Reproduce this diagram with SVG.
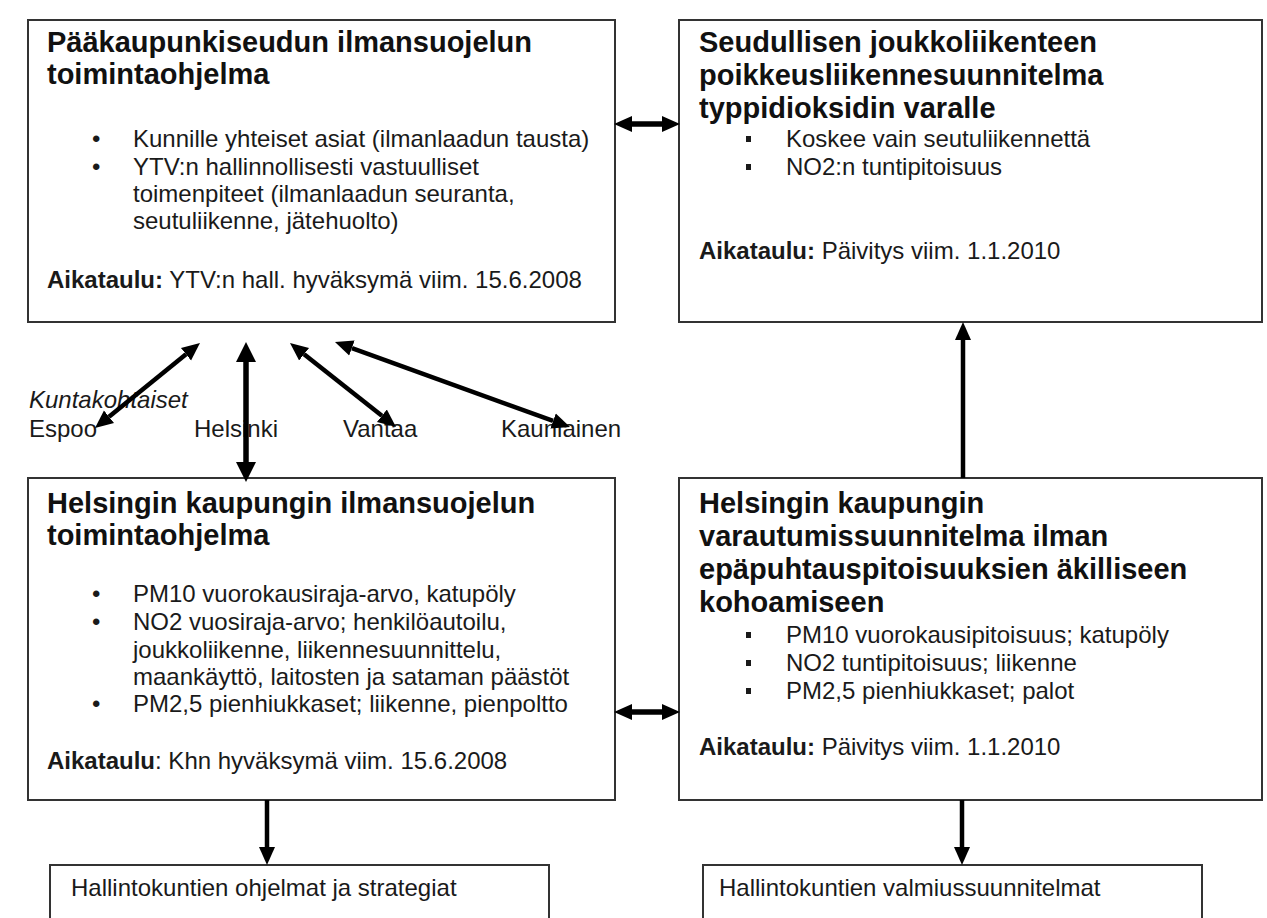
<svg xmlns="http://www.w3.org/2000/svg" width="1267" height="918" viewBox="0 0 1267 918">
<style>
.box{fill:#fff;stroke:#333;stroke-width:2}
.t{font-family:"Liberation Sans",Arial,sans-serif;font-size:29px;font-weight:bold;fill:#111}
.b{font-family:"Liberation Sans",Arial,sans-serif;font-size:24px;fill:#1a1a1a}
.bb{font-weight:bold}
.lbl{font-family:"Liberation Sans",Arial,sans-serif;font-size:24px;fill:#1a1a1a}
.it{font-style:italic}
.sq{fill:#1a1a1a}
.ar{stroke:#000;stroke-width:4.5;fill:none}
.arH{stroke:#000;stroke-width:5.5;fill:none}
.arL{stroke:#000;stroke-width:5.5;fill:none}
</style>
<defs>
<marker id="ah" markerUnits="userSpaceOnUse" markerWidth="20" markerHeight="20" viewBox="0 -10 20 20" refX="0" refY="0" orient="auto-start-reverse">
<path d="M0,-8 L18,0 L0,8 z" fill="#000"/>
</marker>
<marker id="ahL" markerUnits="userSpaceOnUse" markerWidth="22" markerHeight="24" viewBox="0 -12 22 24" refX="0" refY="0" orient="auto-start-reverse">
<path d="M0,-10 L20,0 L0,10 z" fill="#000"/>
</marker>
</defs>
<rect width="1267" height="918" fill="#fff"/>

<g id="node-paakaupunkiseutu">
<rect class="box" x="28" y="20" width="587" height="302"/>
<text class="t" x="47" y="52">Pääkaupunkiseudun ilmansuojelun</text>
<text class="t" x="47" y="84">toimintaohjelma</text>
<text class="b" x="92" y="147">•</text>
<text class="b" x="133" y="147">Kunnille yhteiset asiat (ilmanlaadun tausta)</text>
<text class="b" x="92" y="175">•</text>
<text class="b" x="133" y="175">YTV:n hallinnollisesti vastuulliset</text>
<text class="b" x="133" y="202">toimenpiteet (ilmanlaadun seuranta,</text>
<text class="b" x="133" y="229">seutuliikenne, jätehuolto)</text>
<text class="b" x="47" y="288"><tspan class="bb">Aikataulu:</tspan> YTV:n hall. hyväksymä viim. 15.6.2008</text>
</g>

<g id="node-seudullinen">
<rect class="box" x="679" y="20" width="583" height="302"/>
<text class="t" x="699" y="52">Seudullisen joukkoliikenteen</text>
<text class="t" x="699" y="85">poikkeusliikennesuunnitelma</text>
<text class="t" x="699" y="118">typpidioksidin varalle</text>
<rect class="sq" x="746" y="136" width="5" height="6"/>
<text class="b" x="786" y="147">Koskee vain seutuliikennettä</text>
<rect class="sq" x="746" y="164" width="5" height="6"/>
<text class="b" x="786" y="175">NO2:n tuntipitoisuus</text>
<text class="b" x="699" y="259"><tspan class="bb">Aikataulu:</tspan> Päivitys viim. 1.1.2010</text>
</g>

<g id="node-helsinki-toimintaohjelma">
<rect class="box" x="28" y="478" width="587" height="322"/>
<text class="t" x="47" y="513">Helsingin kaupungin ilmansuojelun</text>
<text class="t" x="47" y="545">toimintaohjelma</text>
<text class="b" x="92" y="602">•</text>
<text class="b" x="133" y="602">PM10 vuorokausiraja-arvo, katupöly</text>
<text class="b" x="92" y="630">•</text>
<text class="b" x="133" y="630">NO2 vuosiraja-arvo; henkilöautoilu,</text>
<text class="b" x="133" y="658">joukkoliikenne, liikennesuunnittelu,</text>
<text class="b" x="133" y="685">maankäyttö, laitosten ja sataman päästöt</text>
<text class="b" x="92" y="712">•</text>
<text class="b" x="133" y="712">PM2,5 pienhiukkaset; liikenne, pienpoltto</text>
<text class="b" x="47" y="769"><tspan class="bb">Aikataulu</tspan>: Khn hyväksymä viim. 15.6.2008</text>
</g>

<g id="node-varautumissuunnitelma">
<rect class="box" x="679" y="478" width="583" height="322"/>
<text class="t" x="699" y="513">Helsingin kaupungin</text>
<text class="t" x="699" y="546">varautumissuunnitelma ilman</text>
<text class="t" x="699" y="579">epäpuhtauspitoisuuksien äkilliseen</text>
<text class="t" x="699" y="612">kohoamiseen</text>
<rect class="sq" x="746" y="632" width="5" height="6"/>
<text class="b" x="786" y="643">PM10 vuorokausipitoisuus; katupöly</text>
<rect class="sq" x="746" y="660" width="5" height="6"/>
<text class="b" x="786" y="671">NO2 tuntipitoisuus; liikenne</text>
<rect class="sq" x="746" y="688" width="5" height="6"/>
<text class="b" x="786" y="699">PM2,5 pienhiukkaset; palot</text>
<text class="b" x="699" y="755"><tspan class="bb">Aikataulu:</tspan> Päivitys viim. 1.1.2010</text>
</g>

<g id="node-ohjelmat">
<rect class="box" x="50" y="865" width="499" height="80"/>
<text class="b" x="71" y="896">Hallintokuntien ohjelmat ja strategiat</text>
</g>

<g id="node-valmiussuunnitelmat">
<rect class="box" x="703" y="865" width="499" height="80"/>
<text class="b" x="719" y="896">Hallintokuntien valmiussuunnitelmat</text>
</g>

<g id="labels">
<text class="lbl it" x="29" y="408">Kuntakohtaiset</text>
<text class="lbl" x="29" y="437">Espoo</text>
<text class="lbl" x="194" y="437">Helsinki</text>
<text class="lbl" x="343" y="437">Vantaa</text>
<text class="lbl" x="501" y="437">Kauniainen</text>
</g>

<g id="connectors">
<line class="arH" x1="632" y1="124" x2="662" y2="124" marker-start="url(#ah)" marker-end="url(#ah)"/>
<line class="arH" x1="632" y1="712" x2="662" y2="712" marker-start="url(#ah)" marker-end="url(#ah)"/>
<line class="ar" x1="963" y1="478" x2="963" y2="340" marker-end="url(#ah)"/>
<line class="arL" x1="246" y1="362" x2="246" y2="462" marker-start="url(#ahL)" marker-end="url(#ahL)"/>
<line class="ar" x1="186" y1="354.3" x2="109" y2="416.7" marker-start="url(#ah)" marker-end="url(#ah)"/>
<line class="ar" x1="304.1" y1="354.2" x2="381.9" y2="415.8" marker-start="url(#ah)" marker-end="url(#ah)"/>
<line class="ar" x1="351.9" y1="348.1" x2="553.1" y2="420.9" marker-start="url(#ah)" marker-end="url(#ah)"/>
<line class="ar" x1="267" y1="800" x2="267" y2="847" marker-end="url(#ah)"/>
<line class="ar" x1="962" y1="800" x2="962" y2="847" marker-end="url(#ah)"/>
</g>
</svg>
